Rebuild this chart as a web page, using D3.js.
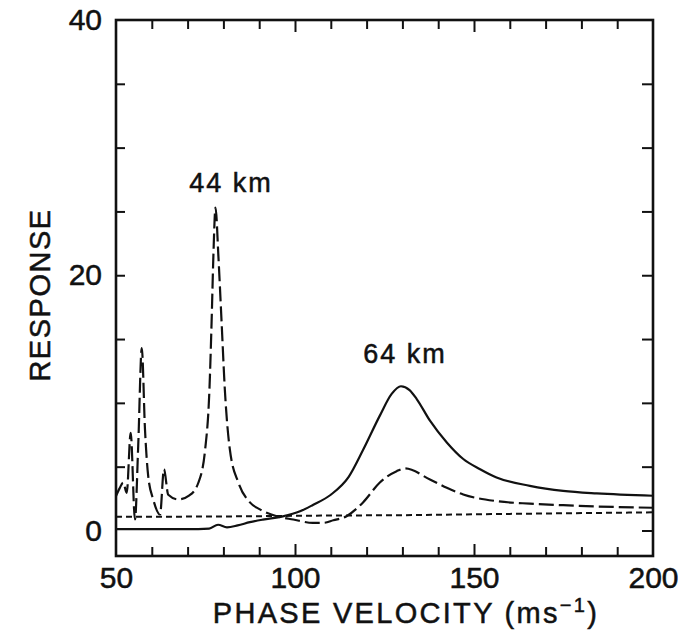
<!DOCTYPE html>
<html><head><meta charset="utf-8">
<script src="https://cdn.jsdelivr.net/npm/d3@7"></script>
<style>
body{margin:0;background:#fff;}
text{font-family:"Liberation Sans",Arial,sans-serif;fill:#111;stroke:#111;stroke-width:0.5px;}
</style></head>
<body><svg id="c" width="680" height="637"></svg>
<script>
// ---- data ----
const xTickLabels = [50, 100, 150, 200];
const yTickLabels = [0, 20, 40];
const xMinorTicks = [60,70,80,90,100,110,120,130,140,150,160,170,180,190];
const yMinorTicks = [0,5,10,15,20,25,30,35];

// 64 km (solid)
const solidX = [50,60,70,76,78.5,81,84,87.4,91,96.6,101.4,105,110,115,119,123.7,127,129.6,132,134,137.7,142.4,147,151.7,156.3,165.6,174.9,184.3,200];
const solidY = [0.1,0.1,0.1,0.15,0.45,0.25,0.4,0.65,0.85,1.1,1.5,2.0,2.8,4.2,6.3,9.0,10.7,11.3,11.0,10.3,8.6,6.9,5.6,4.8,4.15,3.5,3.1,2.9,2.72];

// 44 km (long dash)
const longX = [50,51,52,53,54.1,55.3,56.2,57.2,58.1,59,60.4,62.3,63.4,64.6,67.4,70.5,73,74.9,76.1,76.7,77.2,77.8,78.6,79.5,80.4,81.8,84.2,87.4,90.2,94.9,99.5,105,108,110.7,114.4,119,123.7,128.4,130.7,137.7,142.4,147,156.3,165.6,174.9,184.3,200];
const longY = [2.7,3.3,3.75,2.95,7.65,0.86,6.6,14.3,7.9,4.25,2.43,1.25,4.8,2.8,2.43,2.75,3.74,6.35,11.05,16.3,21.5,25.3,21.5,16.3,11.05,6.35,3.74,2.2,1.65,1.12,0.86,0.6,0.6,0.8,1.12,2.2,3.76,4.65,4.86,4.0,3.34,2.82,2.3,2.1,1.98,1.88,1.78];

// short dash
const shortX = [50,80,110,130,160,200];
const shortY = [1.07,1.1,1.17,1.2,1.3,1.42];

// ---- layout ----
const svg = d3.select("#c");
const L=116, R=653, T=20, B=556;
const x = d3.scaleLinear().domain([50,200]).range([L,R]);
const y = d3.scaleLinear().domain([-2,40]).range([B,T]);

// frame
svg.append("rect").attr("x",L).attr("y",T).attr("width",R-L).attr("height",B-T)
  .attr("fill","none").attr("stroke","#111").attr("stroke-width",2.6);

// inward ticks
const tickStyle = g => { g.select(".domain").remove(); g.selectAll("line").attr("stroke","#111").attr("stroke-width",2); };
svg.append("g").attr("transform",`translate(0,${B})`)
  .call(d3.axisBottom(x).tickValues(xMinorTicks).tickSize(-9).tickFormat(""))
  .call(tickStyle)
  .call(g=>g.selectAll(".tick line").filter(d=>d===100||d===150).attr("y2",-12));
svg.append("g").attr("transform",`translate(0,${T})`)
  .call(d3.axisTop(x).tickValues(xMinorTicks).tickSize(-9).tickFormat(""))
  .call(tickStyle)
  .call(g=>g.selectAll(".tick line").filter(d=>d===100||d===150).attr("y2",12));
svg.append("g").attr("transform",`translate(${L},0)`)
  .call(d3.axisLeft(y).tickValues(yMinorTicks.filter(d=>d>0)).tickSize(-9).tickFormat(""))
  .call(tickStyle);
svg.append("g").attr("transform",`translate(${R},0)`)
  .call(d3.axisRight(y).tickValues(yMinorTicks).tickSize(-11).tickFormat(""))
  .call(tickStyle);

// tick labels
const lblStyle = g=>{g.select(".domain").remove(); g.selectAll("text").attr("font-size",30)
  .attr("font-family","Liberation Sans, Arial, sans-serif").attr("fill","#111").attr("stroke","#111").attr("stroke-width",0.5);};
svg.append("g").attr("transform",`translate(0,${B})`)
  .call(d3.axisBottom(x).tickValues(xTickLabels).tickSize(0).tickPadding(11).tickFormat(d3.format("d")))
  .call(lblStyle);
svg.append("g").attr("transform",`translate(${L},0)`)
  .call(d3.axisLeft(y).tickValues(yTickLabels).tickSize(0).tickPadding(14).tickFormat(d3.format("d")))
  .call(lblStyle);

// curves
const mk = (xs,ys)=>xs.map((v,i)=>[v,ys[i]]);
const line = d3.line().x(d=>x(d[0])).y(d=>y(d[1])).curve(d3.curveMonotoneX);
svg.append("path").datum(mk(shortX,shortY)).attr("d",line)
  .attr("fill","none").attr("stroke","#111").attr("stroke-width",2).attr("stroke-dasharray","6,4");
svg.append("path").datum(mk(longX,longY)).attr("d",line)
  .attr("fill","none").attr("stroke","#111").attr("stroke-width",2.2).attr("stroke-dasharray","15,5");
svg.append("path").datum(mk(solidX,solidY)).attr("d",line)
  .attr("fill","none").attr("stroke","#111").attr("stroke-width",2.2);

// annotations
svg.append("text").attr("x",231).attr("y",192).attr("text-anchor","middle")
  .attr("font-size",27).attr("letter-spacing",2).text("44 km");
svg.append("text").attr("x",405).attr("y",363).attr("text-anchor","middle")
  .attr("font-size",27).attr("letter-spacing",2).text("64 km");

// axis titles
const xt = svg.append("text").attr("x",406).attr("y",623).attr("text-anchor","middle")
  .attr("font-size",29).attr("letter-spacing",2.3);
xt.append("tspan").text("PHASE VELOCITY (ms");
xt.append("tspan").attr("font-size",20).attr("dy",-11).text("−1");
xt.append("tspan").attr("dy",11).text(")");
svg.append("text").attr("transform",`translate(50,295) rotate(-90)`)
  .attr("text-anchor","middle").attr("font-size",29).attr("letter-spacing",1.5).text("RESPONSE");
</script></body></html>
